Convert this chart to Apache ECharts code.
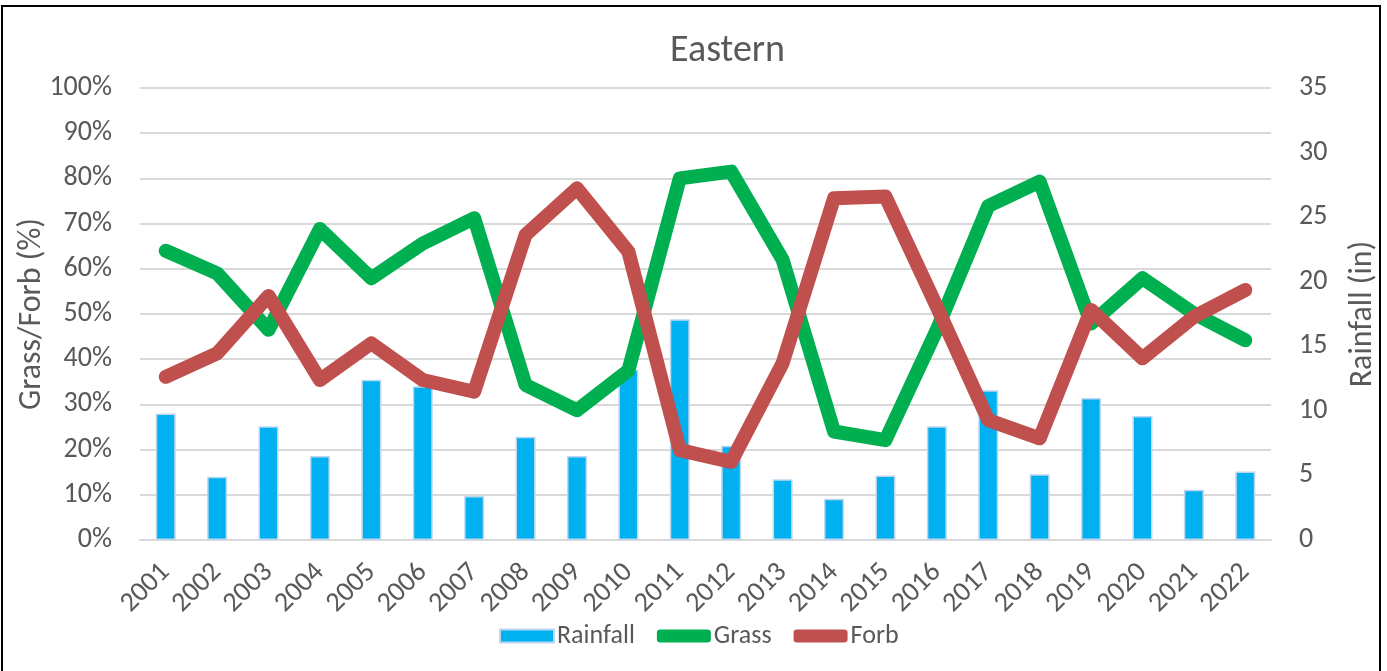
<!DOCTYPE html>
<html>
<head>
<meta charset="utf-8">
<script src="https://cdn.jsdelivr.net/npm/echarts@6/dist/echarts.min.js"></script>
<style>
  html, body { margin: 0; padding: 0; background: #fff; }
  #chart { width: 1387px; height: 671px; position: relative; }
  .frame {
    position: absolute; left: 1px; top: 5px; width: 1380px; height: 680px;
    border: 2px solid #000; border-bottom: none; box-sizing: border-box; pointer-events: none;
  }
</style>
</head>
<body>
<div id="chart"></div>
<div class="frame"></div>
<script>
// years on the x axis
const years = ['2001','2002','2003','2004','2005','2006','2007','2008','2009','2010','2011',
  '2012','2013','2014','2015','2016','2017','2018','2019','2020','2021','2022'];
// rainfall in inches (right axis)
const rainfall = [9.8, 4.9, 8.8, 6.5, 12.4, 11.9, 3.4, 8.0, 6.5, 13.2, 17.1,
  7.3, 4.7, 3.2, 5.0, 8.8, 11.6, 5.1, 11.0, 9.6, 3.9, 5.3];
// grass cover percent (left axis)
const grass = [64.0, 59.0, 46.5, 68.8, 57.9, 65.6, 71.2, 34.3, 28.7, 37.5, 80.0,
  81.5, 62.0, 24.0, 22.1, 46.5, 73.9, 79.3, 47.9, 57.9, 50.1, 44.2];
// forb cover percent (left axis)
const forb = [36.1, 41.3, 54.0, 35.4, 43.5, 35.4, 32.8, 67.5, 77.8, 63.8, 19.9,
  17.3, 39.1, 75.6, 76.0, 51.6, 26.5, 22.5, 50.9, 40.2, 49.4, 55.3];

const pctTicks = { min: 0, max: 100, interval: 10 };
const rainTicks = { min: 0, max: 35, interval: 5 };

const font = 'Carlito, "Liberation Sans", sans-serif';
const textColor = '#595959';

const chart = echarts.init(document.getElementById('chart'));

const option = {
  backgroundColor: '#fff',
  textStyle: { fontFamily: font, color: textColor },
  title: {
    text: 'Eastern',
    left: 665,
    top: 27,
    textStyle: { fontFamily: font, fontSize: 38, fontWeight: 'normal', color: textColor }
  },
  grid: { left: 140, right: 116, top: 88, bottom: 131 },
  legend: {
    left: 494,
    top: 618,
    itemWidth: 54,
    itemHeight: 13,
    itemGap: 22,
    textStyle: { fontFamily: font, fontSize: 26, color: textColor, padding: [0, 0, 0, -2] },
    data: [
      { name: 'Rainfall', icon: 'rect' },
      { name: 'Grass', icon: 'roundRect' },
      { name: 'Forb', icon: 'roundRect' }
    ]
  },
  xAxis: {
    type: 'category',
    data: years,
    axisLine: { show: true, lineStyle: { color: '#d9d9d9', width: 2 } },
    axisTick: { show: false },
    axisLabel: {
      rotate: 45,
      interval: 0,
      margin: 28,
      fontFamily: font,
      fontSize: 28,
      color: textColor
    }
  },
  yAxis: [
    {
      type: 'value',
      min: pctTicks.min,
      max: pctTicks.max,
      interval: pctTicks.interval,
      name: 'Grass/Forb (%)',
      nameLocation: 'middle',
      nameGap: 92,
      nameMoveOverlap: false,
      nameTextStyle: { fontFamily: font, fontSize: 32, color: textColor },
      axisLine: { show: false },
      axisTick: { show: false },
      axisLabel: { formatter: '{value}%', margin: 28, fontFamily: font, fontSize: 28, color: textColor },
      splitLine: { show: true, lineStyle: { color: '#d9d9d9', width: 2 } }
    },
    {
      type: 'value',
      min: rainTicks.min,
      max: rainTicks.max,
      interval: rainTicks.interval,
      name: 'Rainfall (in)',
      nameLocation: 'middle',
      nameGap: 76,
      nameRotate: 90,
      nameTextStyle: { fontFamily: font, fontSize: 32, color: textColor },
      axisLine: { show: false },
      axisTick: { show: false },
      axisLabel: { margin: 28, fontFamily: font, fontSize: 28, color: textColor },
      splitLine: { show: false }
    }
  ],
  series: [
    {
      name: 'Rainfall',
      type: 'bar',
      yAxisIndex: 1,
      data: rainfall,
      barWidth: 20,
      itemStyle: { color: '#00b0f0', borderColor: '#bdd7ee', borderWidth: 1.5 },
      z: 1
    },
    {
      name: 'Grass',
      type: 'line',
      yAxisIndex: 0,
      data: grass,
      symbol: 'none',
      lineStyle: { color: '#00b050', width: 14, cap: 'round', join: 'round' },
      itemStyle: { color: '#00b050' },
      z: 3
    },
    {
      name: 'Forb',
      type: 'line',
      yAxisIndex: 0,
      data: forb,
      symbol: 'none',
      lineStyle: { color: '#c0504d', width: 14, cap: 'round', join: 'round' },
      itemStyle: { color: '#c0504d' },
      z: 4
    }
  ]
};

chart.setOption(option);
</script>
</body>
</html>
